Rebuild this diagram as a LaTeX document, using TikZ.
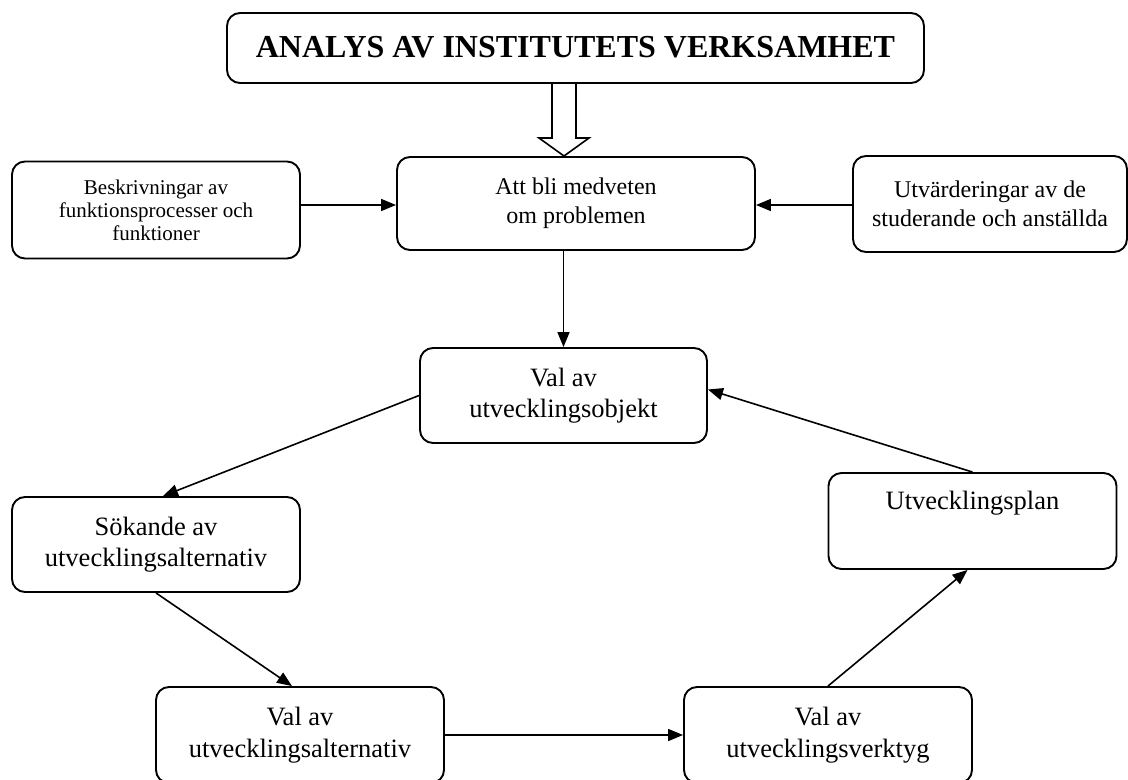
\documentclass[tikz,border=0pt]{standalone}
\usepackage{fontspec}
\setmainfont{Liberation Serif}
\usetikzlibrary{arrows.meta}

\begin{document}
\begin{tikzpicture}[x=1bp, y=-1bp,
  box/.style={draw, line width=1.9bp, rounded corners=13bp, align=center, inner sep=0pt},
  stage/.style={box, minimum width=288bp, minimum height=96bp, font=\fontsize{26.5bp}{31.5bp}\selectfont},
  conn/.style={-{Triangle[length=15bp,width=12bp]}, line width=1.6bp},
  hollow/.style={line width=1.6bp, fill=white}]
  \useasboundingbox (0,0) rectangle (1128,780);

  % Heading
  \node[box, minimum width=697bp, minimum height=70bp, font=\fontsize{32bp}{38bp}\selectfont\bfseries]
    (title) at (575.5,48) {\raisebox{3bp}{ANALYS AV INSTITUTETS VERKSAMHET}};

  % Upper row
  \node[box, minimum width=288bp, minimum height=97bp, font=\fontsize{21bp}{23bp}\selectfont]
    (descr) at (156,210) {Beskrivningar av\\funktionsprocesser och\\funktioner};
  \node[box, minimum width=358bp, minimum height=93bp, font=\fontsize{24bp}{28.8bp}\selectfont]
    (aware) at (576,203.5) {Att bli medveten\\om problemen};
  \node[box, minimum width=274bp, minimum height=96bp, font=\fontsize{24bp}{28.8bp}\selectfont]
    (evals) at (990,204) {Utvärderingar av de\\studerande och anställda};

  % Development cycle
  \node[stage, minimum width=287bp, minimum height=95bp] (obj) at (563.5,395.5) {Val av\\utvecklingsobjekt};
  \node[stage, minimum height=95bp] (search) at (156,544.5) {Sökande av\\utvecklingsalternativ};
  \node[stage] (alt) at (300,735) {Val av\\utvecklingsalternativ};
  \node[stage] (tool) at (828,735) {Val av\\utvecklingsverktyg};
  \node[stage] (plan) at (972.5,521) {Utvecklingsplan\\\strut};

  % Hollow arrow from heading
  \coordinate (hollowtip) at (564,156);
  \draw[hollow] (hollowtip) -- ++(-25,-18) -- ++(13,0) -- ++(0,-55) -- ++(24,0)
    -- ++(0,55) -- ++(13,0) -- cycle;

  % Inputs
  \draw[conn] (descr.east |- 0,205) -- (aware.west |- 0,205);
  \draw[conn] (evals.west |- 0,205) -- (aware.east |- 0,205);
  \draw[conn] (aware.south -| obj.north) -- (obj.north);

  % Cycle
  \draw[conn] (obj.west) -- ([xshift=7bp]search.north);
  \draw[conn] (search.south) -- ([xshift=-8bp]alt.north);
  \draw[conn] (alt.east) -- (tool.west);
  \draw[conn] (tool.north) -- ([xshift=-5bp]plan.south);
  \draw[conn] (plan.north) -- ([yshift=6bp]obj.east);
\end{tikzpicture}
\end{document}
